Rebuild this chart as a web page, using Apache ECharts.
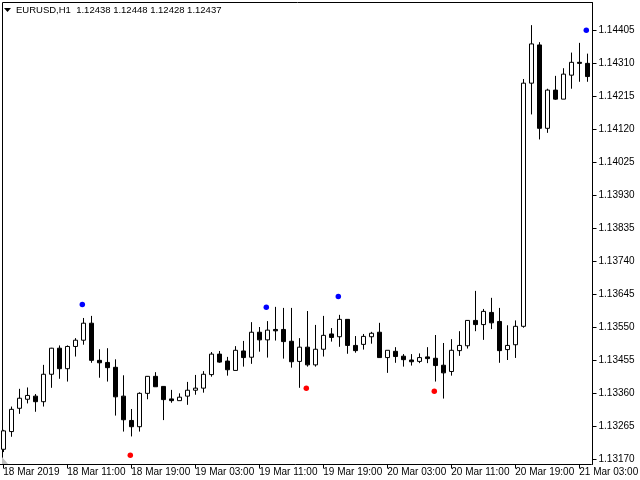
<!DOCTYPE html>
<html><head><meta charset="utf-8">
<script src="https://cdn.jsdelivr.net/npm/echarts@6/dist/echarts.min.js"></script>
<style>html,body{margin:0;padding:0;background:#fff}#c{width:640px;height:480px}</style>
</head><body><div id="c"></div>
<script>
const opens  = [1.13198,1.13249,1.13316,1.13342,1.13351,1.13335,1.13414,1.13489,1.13430,1.13494,
                1.13512,1.13561,1.13454,1.13448,1.13434,1.13351,1.13281,1.13263,1.13359,1.13408,
                1.13379,1.13343,1.13338,1.13351,1.13368,1.13374,1.13413,1.13472,1.13452,1.13425,
                1.13481,1.13463,1.13535,1.13513,1.13543,1.13543,1.13509,1.13451,1.13492,1.13441,
                1.13486,1.13530,1.13522,1.13572,1.13497,1.13500,1.13522,1.13535,1.13462,1.13480,
                1.13466,1.13455,1.13451,1.13464,1.13460,1.13440,1.13422,1.13482,1.13496,1.13569,
                1.13557,1.13592,1.13566,1.13485,1.13499,1.13552,1.14252,1.14362,1.14122,1.14232,
                1.14206,1.14275,1.14312,1.14309];
const highs  = [1.13254,1.13321,1.13372,1.13376,1.13357,1.13441,1.13490,1.13497,1.13497,1.13518,
                1.13576,1.13582,1.13486,1.13489,1.13457,1.13411,1.13314,1.13362,1.13409,1.13420,
                1.13380,1.13369,1.13359,1.13392,1.13412,1.13423,1.13478,1.13481,1.13464,1.13495,
                1.13510,1.13564,1.13550,1.13567,1.13608,1.13605,1.13605,1.13518,1.13596,1.13556,
                1.13582,1.13547,1.13585,1.13573,1.13524,1.13530,1.13536,1.13562,1.13483,1.13492,
                1.13472,1.13472,1.13474,1.13492,1.13527,1.13504,1.13515,1.13538,1.13570,1.13654,
                1.13602,1.13634,1.13605,1.13555,1.13569,1.14264,1.14419,1.14370,1.14236,1.14273,
                1.14295,1.14340,1.14368,1.14337];
const lows   = [1.13190,1.13234,1.13300,1.13330,1.13306,1.13321,1.13375,1.13401,1.13393,1.13465,
                1.13499,1.13447,1.13404,1.13393,1.13295,1.13249,1.13235,1.13249,1.13342,1.13378,
                1.13282,1.13332,1.13338,1.13326,1.13355,1.13361,1.13407,1.13447,1.13410,1.13425,
                1.13436,1.13444,1.13479,1.13462,1.13511,1.13459,1.13433,1.13375,1.13436,1.13436,
                1.13465,1.13508,1.13493,1.13473,1.13476,1.13485,1.13502,1.13462,1.13418,1.13447,
                1.13436,1.13439,1.13446,1.13446,1.13393,1.13344,1.13410,1.13467,1.13488,1.13538,
                1.13513,1.13544,1.13447,1.13455,1.13461,1.13548,1.14162,1.14090,1.14109,1.14204,
                1.14206,1.14236,1.14256,1.14256];
const closes = [1.13251,1.13313,1.13345,1.13353,1.13335,1.13414,1.13489,1.13430,1.13494,1.13512,
                1.13561,1.13454,1.13447,1.13433,1.13349,1.13283,1.13263,1.13359,1.13408,1.13378,
                1.13341,1.13338,1.13348,1.13368,1.13374,1.13414,1.13472,1.13449,1.13427,1.13483,
                1.13462,1.13535,1.13513,1.13541,1.13539,1.13508,1.13450,1.13492,1.13441,1.13486,
                1.13526,1.13520,1.13572,1.13497,1.13482,1.13523,1.13532,1.13462,1.13483,1.13465,
                1.13456,1.13450,1.13462,1.13459,1.13439,1.13418,1.13483,1.13497,1.13569,1.13557,
                1.13595,1.13562,1.13482,1.13497,1.13552,1.14252,1.14365,1.14122,1.14232,1.14206,
                1.14278,1.14312,1.14309,1.14271];
const tickLabels = ['18 Mar 2019','18 Mar 11:00','18 Mar 19:00','19 Mar 03:00','19 Mar 11:00',
                    '19 Mar 19:00','20 Mar 03:00','20 Mar 11:00','20 Mar 19:00','21 Mar 03:00'];
const priceTicks = [1.13170,1.13265,1.13360,1.13455,1.13550,1.13645,1.13740,1.13835,
                    1.13930,1.14025,1.14120,1.14215,1.14310,1.14405];
const blueIdx = [10,33,42,73];
const bluePrice = [1.13615,1.13607,1.13638,1.14404];
const redIdx = [16,38,54];
const redPrice = [1.13181,1.13374,1.13365];
const titleText = 'EURUSD,H1  1.12438 1.12448 1.12428 1.12437';

const categories = [];
for (let i = 0; i < opens.length; i++) {
  const h = 3 + i;
  categories.push((18 + Math.floor(h / 24)) + ' Mar ' + String(h % 24).padStart(2, '0') + ':00');
}
const FONT = '"Liberation Sans", Arial, sans-serif';
const every8 = (idx) => idx % 8 === 0;

const chart = echarts.init(document.getElementById('c'), null, {renderer: 'canvas'});
chart.setOption({
  animation: false,
  backgroundColor: '#ffffff',
  grid: {left: -0.7, top: 2.5, width: 592, height: 462, containLabel: false, outerBoundsMode: 'none'},
  xAxis: {
    type: 'category', data: categories, boundaryGap: true,
    axisLine: {show: true, lineStyle: {color: '#000', width: 1}},
    axisTick: {show: true, alignWithLabel: true, interval: every8, length: 4, lineStyle: {color: '#000'}},
    axisLabel: {interval: every8, formatter: (v, idx) => (idx % 8 === 0 ? tickLabels[idx / 8] : ''),
                align: 'left', margin: 3, color: '#000', fontFamily: FONT, fontSize: 10},
    splitLine: {show: false}
  },
  yAxis: {
    type: 'value', position: 'right', offset: 1.2, scale: true,
    min: 1.131542, max: 1.144842,
    axisLine: {show: true, lineStyle: {color: '#000', width: 1}},
    axisTick: {show: true, length: 4, customValues: priceTicks, lineStyle: {color: '#000'}},
    axisLabel: {customValues: priceTicks, formatter: (v) => v.toFixed(5), margin: 6,
                color: '#000', fontFamily: FONT, fontSize: 10},
    splitLine: {show: false}
  },
  series: [
    {
      type: 'candlestick', clip: false, silent: true, barWidth: 4,
      data: opens.map((o, i) => [o, closes[i], lows[i], highs[i]]),
      itemStyle: {color: '#ffffff', color0: '#000000', borderColor: '#000000', borderColor0: '#000000', borderWidth: 1}
    },
    {
      type: 'scatter', silent: true, symbol: 'circle', symbolSize: 5.5, symbolOffset: [-1, 0],
      data: blueIdx.map((x, i) => [x, bluePrice[i]]), itemStyle: {color: '#0000ff', opacity: 1}
    },
    {
      type: 'scatter', silent: true, symbol: 'circle', symbolSize: 5.5, symbolOffset: [-1, 0],
      data: redIdx.map((x, i) => [x, redPrice[i]]), itemStyle: {color: '#ff0000', opacity: 1}
    }
  ],
  graphic: [
    {type: 'polyline', silent: true, shape: {points: [[2.5, 464.5], [2.5, 2.5], [592.5, 2.5]]},
     style: {stroke: '#000', lineWidth: 1, fill: null}},
    {type: 'polygon', silent: true, shape: {points: [[2, 457], [2, 464], [8, 464]]}, style: {fill: '#c0c0c0'}},
    {type: 'polygon', silent: true, shape: {points: [[4, 8], [11, 8], [7.5, 12]]}, style: {fill: '#000'}},
    {type: 'text', silent: true, x: 16, y: 10,
     style: {text: titleText, fill: '#000', font: '9.5px ' + FONT, verticalAlign: 'middle'}}
  ]
});
</script>
</body></html>
